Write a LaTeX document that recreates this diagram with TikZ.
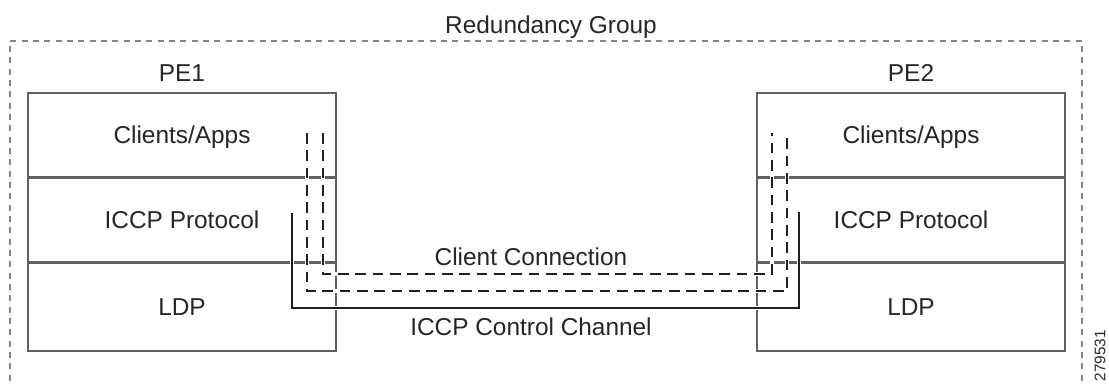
\documentclass[tikz,border=0pt]{standalone}
\usepackage{fontspec}
\setmainfont{Liberation Sans}
\usepackage{tikz}
\usetikzlibrary{positioning}
\definecolor{boxline}{gray}{0.38}
\definecolor{groupline}{gray}{0.52}
\definecolor{linkline}{gray}{0.12}
\tikzset{layer/.style={draw=boxline,line width=1.1pt,minimum width=231pt,inner sep=0pt,
    text height=13.1pt,text depth=0pt,font=\fontsize{18.3}{21}\selectfont,text=black!85}}

\begin{document}
\begin{tikzpicture}[x=0.75pt,y=-0.75pt,
    lbl/.style={inner sep=0pt,anchor=base,font=\fontsize{18.3}{21}\selectfont,text=black!85},
    link/.style={linkline,line width=0.9pt,preaction={draw=white,line width=3.5pt,solid}},
    client/.style={link,dash pattern=on 8pt off 5pt}]
                \useasboundingbox (0,0) rectangle (1109,383);
                % redundancy group
                \draw [groupline,line width=0.9pt,dash pattern=on 4.5pt off 4pt]
                    (10,392) -- (10,41) -- (1082,41) -- (1082,392);
                \node [lbl] (grp) at (551,33) {Redundancy Group};
                % PE1
                \node [layer,minimum height=63pt] (app1) at (182,135) {Clients/Apps};
                \node [layer,minimum height=62.25pt,below=0pt of app1] (iccp1) {ICCP Protocol};
                \node [layer,minimum height=66pt,below=0pt of iccp1] (ldp1) {LDP};
                \node [lbl] (pe1) at (182,81) {PE1};
                % PE2
                \node [layer,minimum height=63pt] (app2) at (911,135) {Clients/Apps};
                \node [layer,minimum height=62.25pt,below=0pt of app2] (iccp2) {ICCP Protocol};
                \node [layer,minimum height=66pt,below=0pt of iccp2] (ldp2) {LDP};
                \node [lbl] (pe2) at (911,81) {PE2};
                % end points
                \coordinate (ca1) at (323,133);
                \coordinate (ca2) at (772,133);
                \coordinate (cb1) at (307,133);
                \coordinate (cb2) at (787,133);
                \coordinate (cc1) at (292,213);
                \coordinate (cc2) at (799,212);
                \draw [link] (cc1) |- (292,308) -| (cc2);
                \draw [client] (cb1) |- (307,291) -| (cb2);
                \draw [client] (ca1) |- (323,274) -| (ca2);
                \node [lbl] (conn) at (531,265) {Client Connection};
                \node [lbl] (chan) at (531,335) {ICCP Control Channel};
                \node [inner sep=0pt,rotate=90,anchor=east,font=\fontsize{11.5}{13}\selectfont,text=black!85]
                    (num) at (1100,330) {279531};
            \end{tikzpicture}
\end{document}
